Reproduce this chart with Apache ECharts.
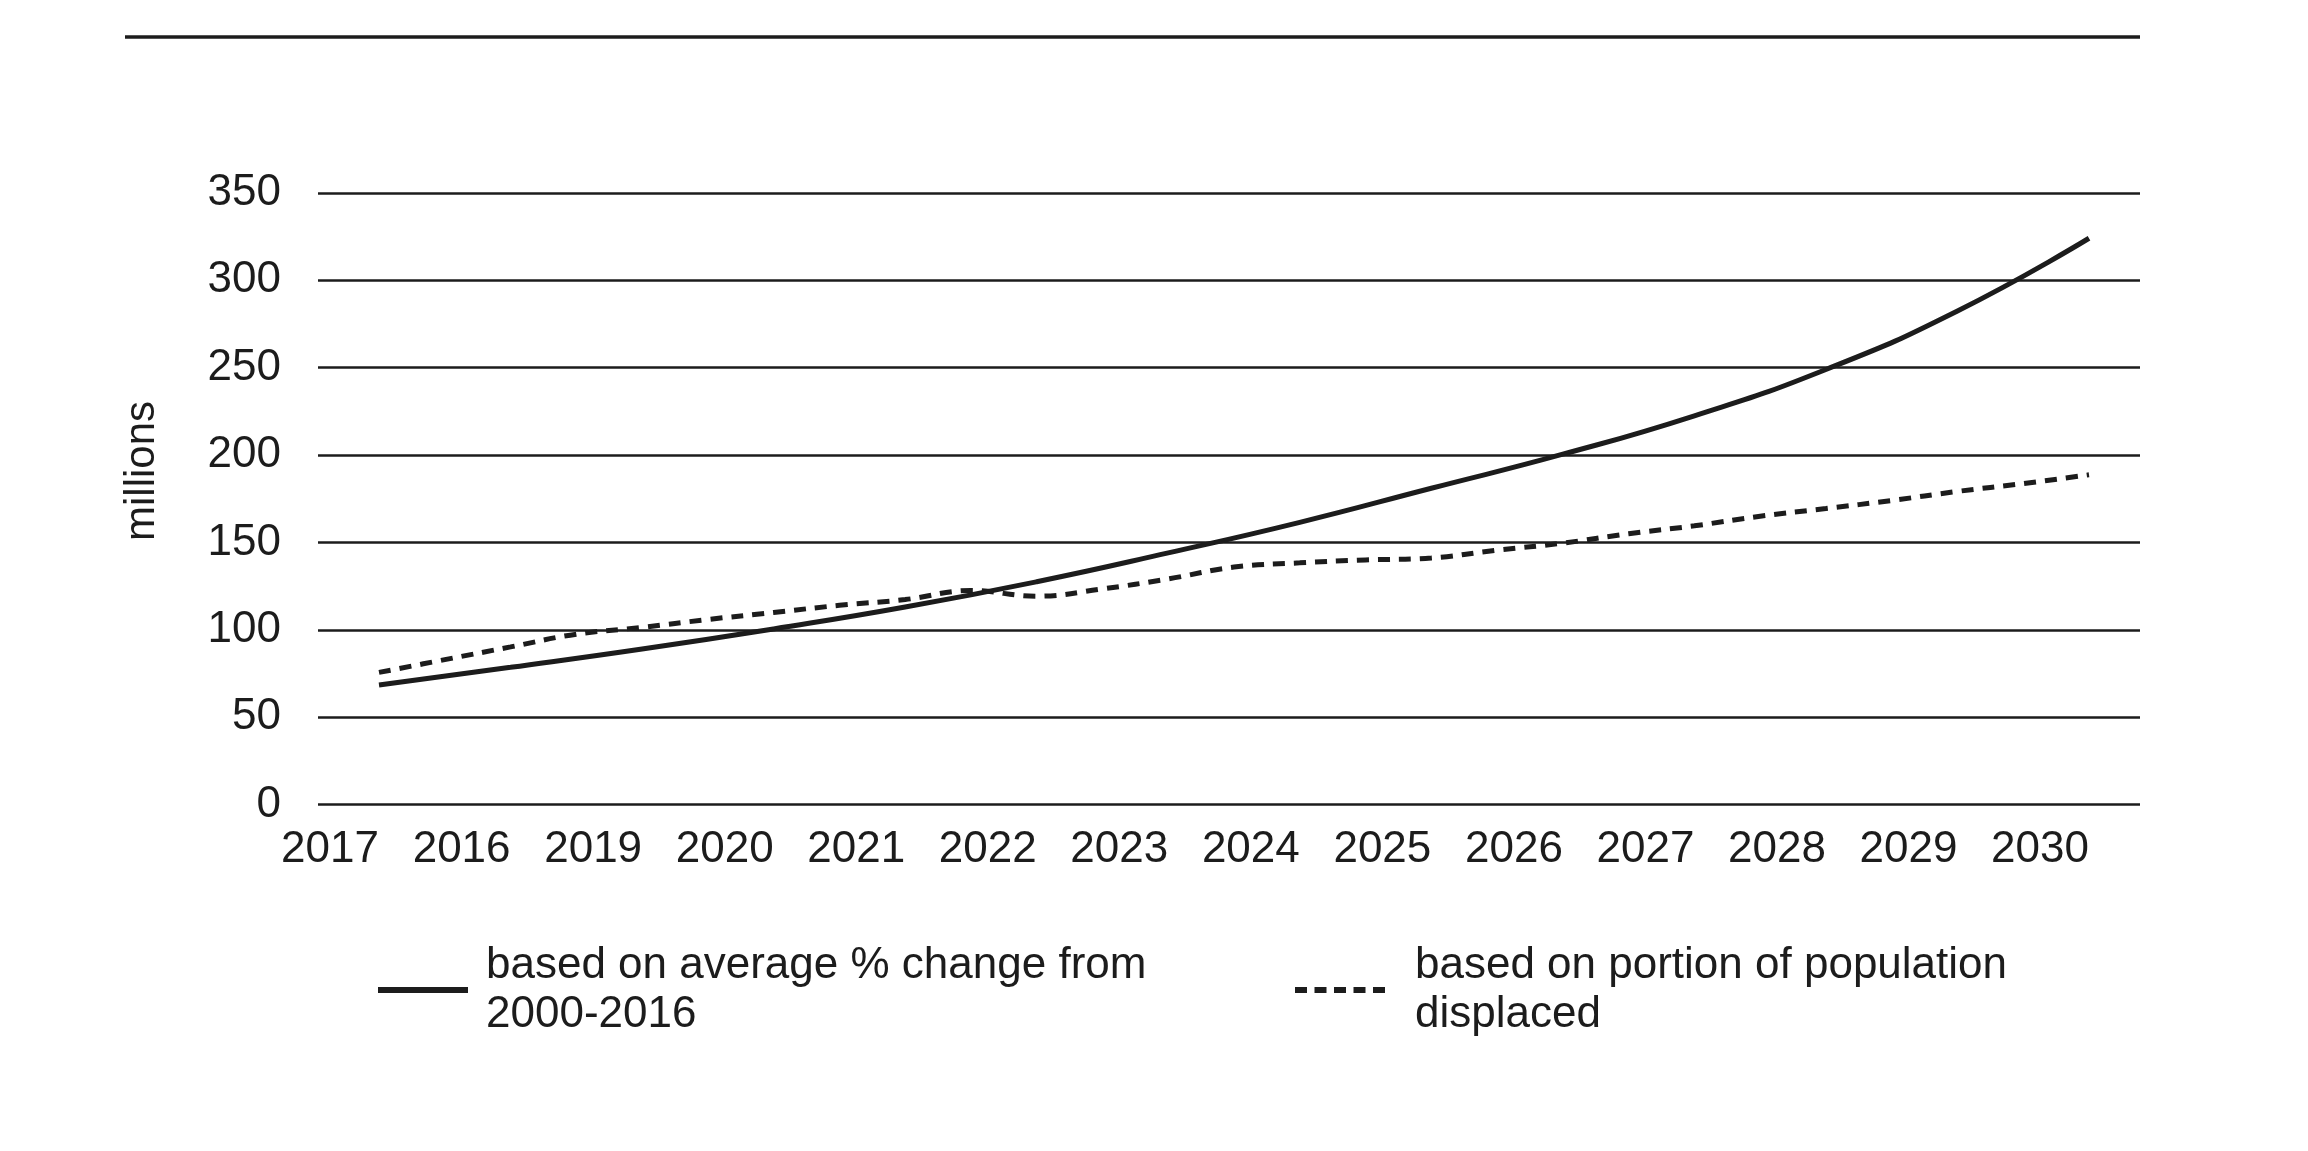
<!DOCTYPE html>
<html>
<head>
<meta charset="utf-8">
<style>
  html, body { margin: 0; padding: 0; background: #ffffff; }
  #chart { width: 2308px; height: 1151px; }
</style>
<script src="https://cdn.jsdelivr.net/npm/echarts@6/dist/echarts.min.js"></script>
</head>
<body>
<div id="chart"></div>
<script>
// ---- data ----
const yearLabels = ['2017', '2016', '2019', '2020', '2021', '2022', '2023', '2024', '2025', '2026', '2027', '2028', '2029', '2030'];
const avgChangeName = 'based on average % change from\n2000-2016';
const avgChangeValues = [68.4, 78.5, 89, 100.5, 113, 127.5, 144, 161.5, 181, 200.5, 222.5, 249, 282.5, 324.1];
const displacedName = 'based on portion of population\ndisplaced';
const displacedPositions = [0, 0.5, 1, 1.5, 2, 2.5, 3, 3.5, 4, 4.5, 5, 5.5, 6, 6.5, 7, 7.5, 8, 8.5, 9, 9.5, 10, 10.5, 11, 11.5, 12, 12.5, 13];
const displacedValues = [75.6, 82.9, 90.2, 97.5, 101.4, 105.9, 109.9, 114.0, 117.3, 122.5, 119.2, 123.4, 129.1, 135.9, 138.3, 140.0, 141.1, 145.6, 149.6, 155.0, 159.5, 165.0, 169.4, 174.0, 179.2, 183.7, 188.7];
const yTicks = { min: 0, max: 350, step: 50 };
const yAxisTitle = 'millions';

// ---- chart ----
const ink = '#1c1c1c';
const font = 'Liberation Sans, Arial, sans-serif';
const dashIcon = 'path://M0,0h12v6h-12z M19.5,0h12v6h-12z M39,0h12v6h-12z M58.5,0h12v6h-12z M78,0h12v6h-12z';
const chart = echarts.init(document.getElementById('chart'), null, { renderer: 'canvas' });

chart.setOption({
  backgroundColor: '#ffffff',
  animation: false,
  textStyle: { fontFamily: font, color: ink },
  grid: [
    { left: 318, right: 168, top: 193, bottom: 346.5 },
    { left: 379, right: 219, top: 193, bottom: 346.5 }
  ],
  xAxis: [
    { gridIndex: 0, type: 'value', min: 0, max: 1, show: false },
    {
      gridIndex: 1, type: 'value', min: 0, max: yearLabels.length - 1, interval: 1,
      axisLine: { show: false }, axisTick: { show: false }, splitLine: { show: false },
      axisLabel: {
        formatter: v => yearLabels[v] || '',
        fontSize: 44, color: ink, fontFamily: font,
        align: 'right', verticalAlign: 'middle', margin: 45
      }
    }
  ],
  yAxis: [
    {
      gridIndex: 0, type: 'value', min: yTicks.min, max: yTicks.max, interval: yTicks.step,
      axisLine: { show: false }, axisTick: { show: false },
      axisLabel: { fontSize: 44, color: ink, fontFamily: font, margin: 37, padding: [0, 0, 6, 0] },
      splitLine: { show: true, lineStyle: { color: ink, width: 2.5 } }
    },
    { gridIndex: 1, type: 'value', min: yTicks.min, max: yTicks.max, interval: yTicks.step, show: false }
  ],
  legend: [
    {
      data: [avgChangeName], left: 378, top: 936, padding: 0,
      icon: 'rect', itemWidth: 90, itemHeight: 6, selectedMode: false,
      itemStyle: { color: ink },
      textStyle: { fontSize: 44, lineHeight: 49, color: ink, fontFamily: font, padding: [10, 0, 0, 13] }
    },
    {
      data: [displacedName], left: 1295, top: 924, padding: 0,
      icon: dashIcon, itemWidth: 90, itemHeight: 6, selectedMode: false,
      itemStyle: { color: ink },
      textStyle: { fontSize: 44, lineHeight: 49, color: ink, fontFamily: font, padding: [0, 0, 34, 25] }
    }
  ],
  graphic: [
    { type: 'line', shape: { x1: 125, y1: 37, x2: 2140, y2: 37 }, style: { stroke: ink, lineWidth: 3.5 } },
    {
      type: 'text', x: 142, y: 471, rotation: Math.PI / 2,
      style: { text: yAxisTitle, fontSize: 42, fontFamily: font, fill: ink, align: 'center', verticalAlign: 'middle' }
    }
  ],
  series: [
    {
      name: avgChangeName, type: 'line', xAxisIndex: 1, yAxisIndex: 1,
      data: avgChangeValues.map((v, i) => [i, v]),
      smooth: 0.5, symbol: 'none', showSymbol: false,
      lineStyle: { color: ink, width: 5, type: 'solid' },
      itemStyle: { color: ink }
    },
    {
      name: displacedName, type: 'line', xAxisIndex: 1, yAxisIndex: 1,
      data: displacedValues.map((v, i) => [displacedPositions[i], v]),
      smooth: 0.4, symbol: 'none', showSymbol: false,
      lineStyle: { color: ink, width: 5, type: [12, 9] },
      itemStyle: { color: ink }
    }
  ]
});
</script>
</body>
</html>
